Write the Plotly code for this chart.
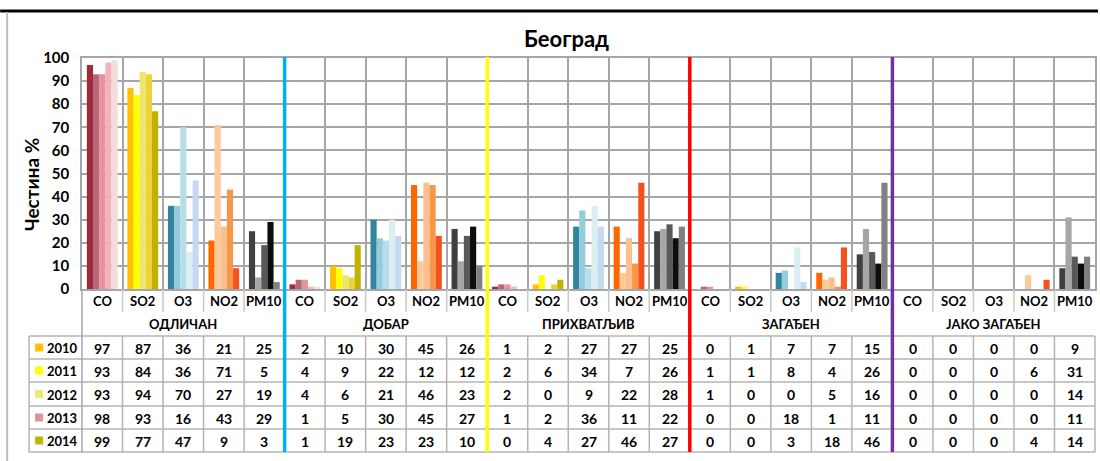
import plotly.graph_objects as go

# ---------------- data ----------------
groups = ["ОДЛИЧАН", "ДОБАР", "ПРИХВАТЉИВ", "ЗАГАЂЕН", "ЈАКО ЗАГАЂЕН"]
pollutants = ["CO", "SO2", "O3", "NO2", "PM10"]
years = ["2010", "2011", "2012", "2013", "2014"]

v2010 = [97, 87, 36, 21, 25, 2, 10, 30, 45, 26, 1, 2, 27, 27, 25, 0, 1, 7, 7, 15, 0, 0, 0, 0, 9]
v2011 = [93, 84, 36, 71, 5, 4, 9, 22, 12, 12, 2, 6, 34, 7, 26, 1, 1, 8, 4, 26, 0, 0, 0, 6, 31]
v2012 = [93, 94, 70, 27, 19, 4, 6, 21, 46, 23, 2, 0, 9, 22, 28, 1, 0, 0, 5, 16, 0, 0, 0, 0, 14]
v2013 = [98, 93, 16, 43, 29, 1, 5, 30, 45, 27, 1, 2, 36, 11, 22, 0, 0, 18, 1, 11, 0, 0, 0, 0, 11]
v2014 = [99, 77, 47, 9, 3, 1, 19, 23, 23, 10, 0, 4, 27, 46, 27, 0, 0, 3, 18, 46, 0, 0, 0, 4, 14]
values = [v2010, v2011, v2012, v2013, v2014]

# ---------------- styles ----------------
pollutant_colors = {
    "CO":   ["#9E2A3A", "#B5687C", "#E6939B", "#F2B3B9", "#F2DCDC"],
    "SO2":  ["#FFC000", "#FFFF00", "#ECE76A", "#EED23A", "#BFB300"],
    "O3":   ["#31859C", "#93CDDD", "#B7DEE8", "#DBEEF4", "#C6D9F1"],
    "NO2":  ["#FF6600", "#FDCB9A", "#FAC08F", "#F79646", "#F5501E"],
    "PM10": ["#404040", "#A6A6A6", "#595959", "#0D0D0D", "#808080"],
}
legend_colors = ["#FFC000", "#FFFF00", "#EEEA6F", "#D99694", "#BFB800"]
sep_colors = ["#00B0F0", "#FFFF00", "#FF0000", "#7030A0"]

FONT = "Lato"
W, H = 1100, 461
L, R, T, B = 82, 1097, 58, 289
GRID = "#A6A6A6"
TAB = "#B4B4B4"

ncat = len(groups) * len(pollutants)
cat_poll = [p for g in groups for p in pollutants]


def px(x):
    return (x - L) / (R - L)


def py(y):
    return (B - y) / (B - T)


fig = go.Figure()
for yi, yr in enumerate(years):
    fig.add_trace(go.Bar(
        x=list(range(ncat)),
        y=values[yi],
        name=yr,
        marker=dict(color=[pollutant_colors[p][yi] for p in cat_poll], line=dict(width=0)),
        showlegend=False,
    ))

shapes = []
annotations = []


def label(x, y, text, size=14, **kw):
    annotations.append(dict(xref="paper", yref="paper", x=x, y=y, text=text, showarrow=False,
                            xanchor="center", yanchor="middle",
                            font=dict(family=FONT, color="black", size=size, weight="bold"), **kw))


# frame
shapes.append(dict(type="line", xref="paper", yref="paper", x0=px(0), x1=px(W), y0=py(11), y1=py(11),
                   line=dict(color="black", width=3)))
shapes.append(dict(type="line", xref="paper", yref="paper", x0=px(7), x1=px(7), y0=py(12), y1=py(H),
                   line=dict(color="#BFBFBF", width=2)))

# table grid
row_lines = [336, 359, 382, 406, 429, 452]
for yl in row_lines:
    shapes.append(dict(type="line", xref="paper", yref="paper", x0=px(29), x1=1, y0=py(yl), y1=py(yl),
                       line=dict(color=TAB, width=1.5)))
shapes.append(dict(type="line", xref="paper", yref="paper", x0=px(29), x1=px(29), y0=py(336), y1=py(452),
                   line=dict(color=TAB, width=1.5)))
for i in range(ncat + 1):
    xb = i / ncat
    if i == 0:
        shapes.append(dict(type="line", xref="paper", yref="paper", x0=xb, x1=xb, y0=0, y1=py(452),
                           line=dict(color=GRID, width=1.5)))
        continue
    shapes.append(dict(type="line", xref="paper", yref="paper", x0=xb, x1=xb, y0=py(336), y1=py(452),
                       line=dict(color=TAB, width=1.5)))
    if i % 5 != 0:
        shapes.append(dict(type="line", xref="paper", yref="paper", x0=xb, x1=xb, y0=0, y1=py(312),
                           line=dict(color="#C8C8C8", width=1.5)))

# group separators
for k, c in enumerate(sep_colors):
    xb = (k + 1) * 5 / ncat
    shapes.append(dict(type="line", xref="paper", yref="paper", x0=xb, x1=xb, y0=py(57), y1=py(452),
                       line=dict(color=c, width=3.5)))

# pollutant labels
for i, p in enumerate(cat_poll):
    label((i + 0.5) / ncat, py(300.5), p, size=13)
# group labels
for g, name in enumerate(groups):
    label((g * 5 + 2.5) / ncat, py(324), name, size=13)
# data rows
row_centers = [(row_lines[r] + row_lines[r + 1]) / 2 + 0.5 for r in range(5)]
for yi, yr in enumerate(years):
    yc = row_centers[yi]
    for i, v in enumerate(values[yi]):
        label((i + 0.5) / ncat, py(yc), str(v), size=14)
    label(px(62), py(yc), yr, size=13)
    shapes.append(dict(type="rect", xref="paper", yref="paper", x0=px(35), x1=px(43),
                       y0=py(yc + 3.5), y1=py(yc - 4.5), fillcolor=legend_colors[yi], line=dict(width=0)))

# title & y-axis title
label(px(567), py(38), "Београд", size=22)
label(px(31), py(185), "Честина %", size=19, textangle=-90)

fig.update_layout(
    width=W, height=H,
    margin=dict(l=L, r=W - R, t=T, b=H - B, pad=0),
    paper_bgcolor="white", plot_bgcolor="white",
    barmode="group", bargap=0.24, bargroupgap=0,
    showlegend=False,
    shapes=shapes, annotations=annotations,
    xaxis=dict(range=[-0.5, ncat - 0.5], tickvals=[i - 0.5 for i in range(ncat + 1)],
               showticklabels=False, ticks="", showgrid=True, gridcolor=GRID, gridwidth=1.5,
               showline=True, mirror=True, linecolor=GRID, linewidth=1.5, zeroline=False, fixedrange=True),
    yaxis=dict(range=[0, 100], dtick=10, showgrid=True, gridcolor=GRID, gridwidth=1.5,
               showline=True, mirror=True, linecolor=GRID, linewidth=1.5, zeroline=False, ticks="",
               tickfont=dict(family=FONT, size=15, color="black", weight="bold"), ticklabelstandoff=8,
               fixedrange=True),
)

fig.write_html("out.html", config={"displayModeBar": False},
               post_script="document.body.style.margin='0';document.body.style.padding='0';")
